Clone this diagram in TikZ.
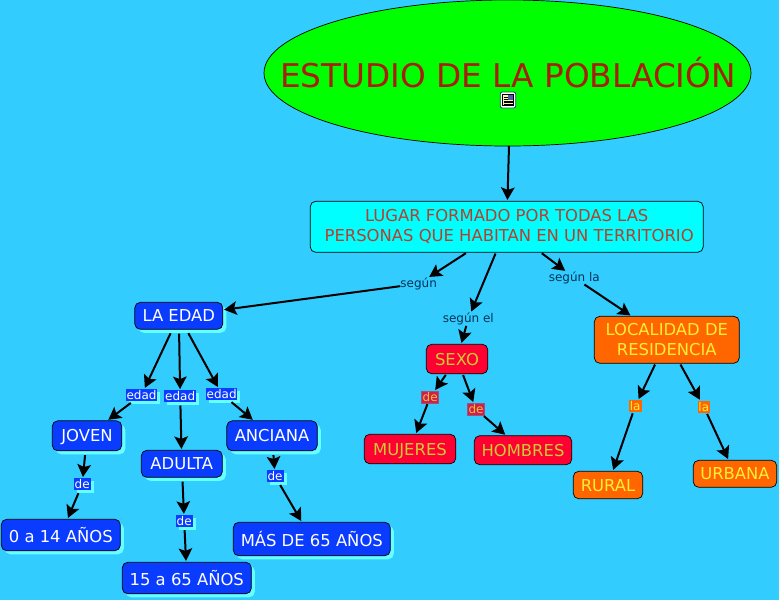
\documentclass[tikz,border=0pt]{standalone}
\usepackage{fontspec}
\setmainfont{DejaVu Sans}
\usetikzlibrary{arrows.meta,shadows,shapes.geometric}
\definecolor{bg}{HTML}{33CCFF}
\definecolor{bluec}{HTML}{0A3CFF}
\definecolor{shad}{HTML}{66FFFF}
\definecolor{redc}{HTML}{FF0033}
\definecolor{orangec}{HTML}{FF6600}
\definecolor{cyanc}{HTML}{00FFFF}
\definecolor{greenc}{HTML}{00FF00}
\definecolor{titlec}{HTML}{A81E0A}
\definecolor{redtxt}{HTML}{CCCC33}
\definecolor{orgtxt}{HTML}{FFEE33}
\definecolor{linktxt}{HTML}{003355}
\definecolor{redlabc}{HTML}{CC2050}
\definecolor{redlabe}{HTML}{A05080}
\definecolor{redlabt}{HTML}{EEC030}
\tikzset{
 x=1pt,y=-1pt,
 anybox/.style={draw=black,line width=0.7pt,rounded corners=5.5pt,inner sep=0pt,align=center,font=\fontsize{16.4}{20}\selectfont},
 capline/.style={text height=12pt,text depth=0pt},
 bluebox/.style={anybox,fill=bluec,text=white,general shadow={shadow xshift=3.5pt,shadow yshift=-3.5pt,fill=shad}},
 redbox/.style={anybox,capline,fill=redc,text=redtxt},
 orangebox/.style={anybox,fill=orangec,text=orgtxt},
 topbox/.style={anybox,fill=cyanc,text=titlec!85!white},
 lab/.style={inner sep=0pt,font=\fontsize{12}{14}\selectfont},
 bluelab/.style={lab,fill=bluec,text=white,general shadow={shadow xshift=3pt,shadow yshift=-3pt,fill=shad}},
 redlab/.style={lab,fill=redlabc,text=redlabt,draw=redlabe,line width=0.5pt},
 orangelab/.style={lab,fill=orangec,text=orgtxt},
 plainlab/.style={lab,text=linktxt},
 head/.style={-{Stealth[length=12.5pt,width=13.5pt,inset=2.5pt]}},
 link/.style={draw=black,line width=2pt,shorten <=4pt,shorten >=1pt,head},
}
\begin{document}
\begin{tikzpicture}
\fill[bg] (0,0) rectangle (779,600);
\useasboundingbox (0,0) rectangle (779,600);
% title
\node[draw=black,line width=0.7pt,fill=greenc,ellipse,minimum width=487pt,minimum height=146pt,inner sep=0pt] (title) at (507.5,73) {};
\node[inner sep=0pt,text=titlec,text height=23.8pt,text depth=0pt,font=\fontsize{32.7}{36}\selectfont] (titletext) at (508,75.7) {ESTUDIO DE LA POBLACIÓN};
% main box
\node[topbox,minimum width=393pt,minimum height=51pt] (top) at (506.7,226.8) {LUGAR FORMADO POR TODAS LAS\\ \hspace{5pt}PERSONAS QUE HABITAN EN UN TERRITORIO};
% blue boxes
\node[bluebox,capline,minimum width=88pt,minimum height=27pt] (edad) at (178.8,315.8) {LA EDAD};
\node[bluebox,capline,minimum width=69.5pt,minimum height=30pt] (joven) at (87,435.8) {JOVEN};
\node[bluebox,capline,minimum width=81pt,minimum height=27pt] (adulta) at (181.8,463.8) {ADULTA};
\node[bluebox,capline,minimum width=90.5pt,minimum height=30pt] (anciana) at (272,435.8) {ANCIANA};
\node[bluebox,minimum width=119pt,minimum height=31.5pt] (n014) at (60.8,535) {0 a 14 AÑOS};
\node[bluebox,minimum width=129pt,minimum height=31.5pt] (n1565) at (186.8,578) {15 a 65 AÑOS};
\node[bluebox,minimum width=157pt,minimum height=33.5pt] (n65) at (311.8,539) {MÁS DE 65 AÑOS};
% red boxes
\node[redbox,minimum width=61.5pt,minimum height=29.5pt] (sexo) at (457,359) {SEXO};
\node[redbox,minimum width=91.5pt,minimum height=29.5pt] (mujeres) at (410,449) {MUJERES};
\node[redbox,minimum width=97.5pt,minimum height=29pt] (hombres) at (523,450.2) {HOMBRES};
% orange boxes
\node[orangebox,minimum width=145pt,minimum height=47pt] (local) at (666.8,339.8) {LOCALIDAD DE\\ RESIDENCIA};
\node[orangebox,capline,minimum width=69.5pt,minimum height=27.5pt] (rural) at (608,485) {RURAL};
\node[orangebox,capline,minimum width=83.5pt,minimum height=27pt] (urbana) at (735,473.8) {URBANA};
% link labels
\node[plainlab] (lsegun) at (418.7,283.7) {según};
\node[plainlab] (lsegunel) at (468.3,318.7) {según el};
\node[plainlab] (lsegunla) at (574.3,277.7) {según la};
\node[bluelab,minimum width=30.5pt,minimum height=12pt] (ledad1) at (141.5,395) {edad};
\node[bluelab,minimum width=31.5pt,minimum height=12pt] (ledad2) at (180.2,396.3) {edad};
\node[bluelab,minimum width=31.5pt,minimum height=12pt] (ledad3) at (221.7,394) {edad};
\node[bluelab,minimum width=17pt,minimum height=12pt] (lde1) at (82.2,484.2) {de};
\node[bluelab,minimum width=17pt,minimum height=12pt] (lde2) at (184.2,521) {de};
\node[bluelab,minimum width=17pt,minimum height=12pt] (lde3) at (275,476.2) {de};
\node[redlab,minimum width=17pt,minimum height=12pt] (lde4) at (430.2,397) {de};
\node[redlab,minimum width=17pt,minimum height=12pt] (lde5) at (476,409.2) {de};
\node[orangelab,minimum width=13pt,minimum height=12pt] (lla1) at (635.2,406.2) {la};
\node[orangelab,minimum width=12.5pt,minimum height=12pt] (lla2) at (703.8,406.8) {la};
% connectors
\coordinate (tfoot) at (509,146);
\draw[link,shorten <=0pt] (tfoot) -- (top);
\draw[link,shorten <=1pt] (top) -- (lsegun);
\draw[link,shorten <=0pt] (lsegun) -- (edad);
\draw[link,shorten <=1pt] (top) -- (lsegunel);
\draw[link,shorten <=1pt] (lsegunel) -- (sexo);
\draw[link,shorten <=1pt] (top) -- (lsegunla);
\draw[link,shorten <=1pt] (lsegunla) -- (local);
\draw[link] (edad) -- (ledad1);
\draw[link] (edad) -- (ledad2);
\draw[link] (edad) -- (ledad3);
\draw[link,shorten <=3pt] (ledad1) -- (joven);
\draw[link,shorten <=3pt] (ledad2) -- (adulta);
\draw[link,shorten <=3pt] (ledad3) -- (anciana);
\draw[link] (joven) -- (lde1);
\draw[link,shorten <=3pt] (lde1) -- (n014);
\draw[link] (adulta) -- (lde2);
\draw[link,shorten <=3pt] (lde2) -- (n1565);
\draw[link] (anciana) -- (lde3);
\draw[link,shorten <=3pt] (lde3) -- (n65);
\draw[link,shorten <=1pt] (sexo) -- (lde4);
\draw[link,shorten <=1pt] (lde4) -- (mujeres);
\draw[link,shorten <=1pt] (sexo) -- (lde5);
\draw[link,shorten <=1pt] (lde5) -- (hombres);
\draw[link,shorten <=1pt] (local) -- (lla1);
\draw[link,shorten <=1pt] (lla1) -- (rural);
\draw[link,shorten <=1pt] (local) -- (lla2);
\draw[link,shorten <=1pt] (lla2) -- (urbana);
% document icon
\fill[white,draw=teal!70!black,line width=0.8pt,rounded corners=2pt] (500.3,92) rectangle (515.7,108);
\fill[black] (502.3,94) rectangle (513.7,106);
\fill[yellow!40!white] (503,94.7) rectangle (513,105.3);
\fill[gray!70!blue] (508,94.7) rectangle (513,100);
\foreach \yy in {97,99}{\draw[black,line width=0.6pt] (503.5,\yy) -- (507.5,\yy);}
\foreach \yy in {101,102.7,104.2}{\draw[black,line width=0.6pt] (503.5,\yy) -- (512.5,\yy);}
\end{tikzpicture}
\end{document}
